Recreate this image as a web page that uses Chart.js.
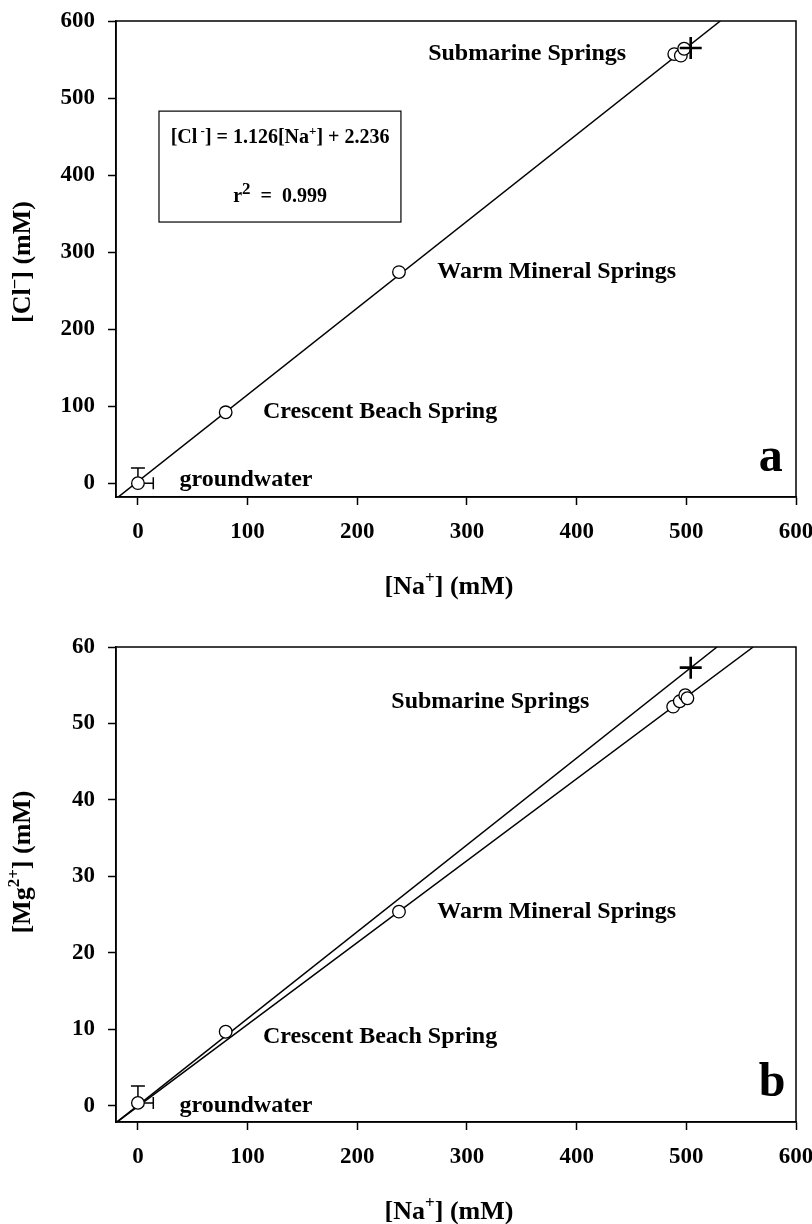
<!DOCTYPE html>
<html>
<head>
<meta charset="utf-8">
<script src="https://cdn.jsdelivr.net/npm/chart.js@4.4.1/dist/chart.umd.min.js"></script>
<style>
  html, body { margin: 0; padding: 0; background: #fff; }
  #wrap { position: relative; width: 812px; height: 1224px; }
  canvas { position: absolute; left: 0; }
</style>
</head>
<body>
<div id="wrap">
  <canvas id="chartA" width="812" height="612" style="top:0"></canvas>
  <canvas id="chartB" width="812" height="612" style="top:612px"></canvas>
</div>
<script>
  // --- panel a: [Cl-] vs [Na+] ---
  const naA = [0, 80, 238, 489, 495, 498];
  const clA = [0, 92, 274, 557, 555, 564];
  const seaNaA = [504];
  const seaClA = [565];
  const fitNaA = [-20, 531];
  const fitClA = [-20.3, 600];
  const gwErrNaA = [14];
  const gwErrClA = [19.5];

  // --- panel b: [Mg2+] vs [Na+] ---
  const naB = [0, 80, 238, 488, 494, 499, 501];
  const mgB = [0.4, 9.7, 25.4, 52.2, 52.9, 53.7, 53.3];
  const seaNaB = [504];
  const seaMgB = [57.3];
  const fitSeaNaB = [-20, 528];
  const fitSeaMgB = [-2.2, 60];
  const fitNaB = [-20, 561];
  const fitMgB = [-2.2, 60];
  const gwErrNaB = [14];
  const gwErrMgB = [2.2];

  const xTicks = [0, 100, 200, 300, 400, 500, 600];
  const yTicksA = [0, 100, 200, 300, 400, 500, 600];
  const yTicksB = [0, 10, 20, 30, 40, 50, 60];

  const siteNames = ['groundwater', 'Crescent Beach Spring', 'Warm Mineral Springs', 'Submarine Springs'];

  const FONT = '"Liberation Serif", "Times New Roman", serif';
  Chart.defaults.font.family = FONT;
  Chart.defaults.color = '#000';

  function pts(xs, ys) {
    return xs.map((x, i) => ({ x, y: ys[i] }));
  }

  // text parts: [string, isSuperscript]
  function drawRich(ctx, parts, x, y, size, align, supScale) {
    const supSize = Math.round(size * (supScale || 0.65));
    let w = 0;
    parts.forEach(p => {
      ctx.font = `bold ${p[1] ? supSize : size}px ${FONT}`;
      w += ctx.measureText(p[0]).width;
    });
    let cx = align === 'center' ? x - w / 2 : x;
    ctx.textAlign = 'left';
    ctx.textBaseline = 'alphabetic';
    ctx.fillStyle = '#000';
    parts.forEach(p => {
      ctx.font = `bold ${p[1] ? supSize : size}px ${FONT}`;
      ctx.fillText(p[0], cx, p[1] ? y - size * 0.42 : y);
      cx += ctx.measureText(p[0]).width;
    });
  }

  const panelPlugin = {
    id: 'panel',
    beforeDatasetsDraw(chart, args, opts) {
      const ctx = chart.ctx;
      const xs = chart.scales.x, ys = chart.scales.y;
      const cx = xs.getPixelForValue(opts.gw[0]);
      const cy = ys.getPixelForValue(opts.gw[1]);
      const ex = xs.getPixelForValue(opts.gw[0] + opts.errX[0]);
      const ey = ys.getPixelForValue(opts.gw[1] + opts.errY[0]);
      ctx.save();
      ctx.strokeStyle = '#000';
      ctx.lineWidth = 1.5;
      ctx.beginPath();
      ctx.moveTo(cx, cy); ctx.lineTo(ex, cy);
      ctx.moveTo(ex, cy - 6); ctx.lineTo(ex, cy + 6);
      ctx.moveTo(cx, cy); ctx.lineTo(cx, ey);
      ctx.moveTo(cx - 7, ey); ctx.lineTo(cx + 7, ey);
      ctx.stroke();
      ctx.restore();
    },
    afterDraw(chart, args, opts) {
      const ctx = chart.ctx;
      const a = chart.chartArea;
      const xs = chart.scales.x, ys = chart.scales.y;
      ctx.save();
      ctx.strokeStyle = '#000';
      ctx.lineWidth = 1.5;
      ctx.strokeRect(a.left, a.top, a.right - a.left, a.bottom - a.top);

      opts.labels.forEach(l => {
        drawRich(ctx, [[l.text, false]], xs.getPixelForValue(l.x), ys.getPixelForValue(l.y), l.size, 'left');
      });

      if (opts.box) {
        const b = opts.box;
        const x0 = xs.getPixelForValue(b.x0), x1 = xs.getPixelForValue(b.x1);
        const y0 = ys.getPixelForValue(b.y0), y1 = ys.getPixelForValue(b.y1);
        ctx.lineWidth = 1.2;
        ctx.strokeRect(x0, y0, x1 - x0, y1 - y0);
        b.lines.forEach(ln => {
          drawRich(ctx, ln.parts, xs.getPixelForValue(b.xc), ys.getPixelForValue(ln.y), 20, 'center', ln.sup);
        });
      }

      // axis titles
      drawRich(ctx, opts.xTitle, (a.left + a.right) / 2 - 7, a.bottom + 97, 26, 'center');
      ctx.translate(30, opts.yTitleY);
      ctx.rotate(-Math.PI / 2);
      drawRich(ctx, opts.yTitle, 0, 0, 26, 'center');
      ctx.restore();
    }
  };

  function makeChart(id, cfg) {
    const axisBase = {
      type: 'linear',
      border: { display: true, color: '#000', width: 1.5 },
      grid: { drawOnChartArea: false, drawTicks: true, tickLength: 8, tickColor: '#000', tickWidth: 1.5 },
      ticks: { font: { size: 23, weight: 'bold' }, color: '#000', padding: 13, autoSkip: false, maxRotation: 0 }
    };
    return new Chart(document.getElementById(id), {
      type: 'scatter',
      data: {
        datasets: [
          ...cfg.fits.map(f => ({
            type: 'line',
            data: f,
            showLine: true,
            borderColor: '#000',
            borderWidth: 1.5,
            pointRadius: 0,
            fill: false,
            order: 3
          })),
          {
            data: cfg.points,
            pointStyle: 'circle',
            pointRadius: 6.3,
            pointBackgroundColor: '#fff',
            pointBorderColor: '#000',
            pointBorderWidth: 1.3,
            order: 1
          },
          {
            data: cfg.sea,
            pointStyle: 'cross',
            pointRadius: 11,
            pointBorderColor: '#000',
            pointBorderWidth: 2.6,
            order: 0
          }
        ]
      },
      options: {
        responsive: false,
        animation: false,
        events: [],
        layout: { padding: { left: 0, right: 16, top: cfg.top, bottom: 0 } },
        plugins: {
          legend: { display: false },
          tooltip: { enabled: false },
          panel: cfg.panel
        },
        scales: {
          x: {
            ...axisBase,
            min: -20, max: 600,
            afterBuildTicks: s => { s.ticks = xTicks.map(v => ({ value: v })); },
            afterFit: s => { s.height = cfg.xHeight; s.paddingLeft = 0; s.paddingRight = 0; }
          },
          y: {
            ...axisBase,
            min: cfg.yMin, max: cfg.yMax,
            afterBuildTicks: s => { s.ticks = cfg.yTicks.map(v => ({ value: v })); },
            afterFit: s => { s.width = 116; s.paddingTop = 0; s.paddingBottom = 0; }
          }
        }
      },
      plugins: [panelPlugin]
    });
  }

  makeChart('chartA', {
    top: 21,
    xHeight: 115,
    yMin: -18, yMax: 600,
    yTicks: yTicksA,
    fits: [pts(fitNaA, fitClA)],
    points: pts(naA, clA),
    sea: pts(seaNaA, seaClA),
    panel: {
      gw: [naA[0], clA[0]],
      errX: gwErrNaA,
      errY: gwErrClA,
      labels: [
        { text: siteNames[3], x: 264.6, y: 550, size: 24 },
        { text: siteNames[2], x: 273, y: 266, size: 24 },
        { text: siteNames[1], x: 114, y: 84, size: 24 },
        { text: siteNames[0], x: 38, y: -4, size: 24 },
        { text: 'a', x: 566, y: 15.6, size: 48 }
      ],
      box: {
        x0: 19.2, x1: 239.8, y0: 483, y1: 339, xc: 129.6,
        lines: [
          { y: 441.6, parts: [['[Cl', false], [' -', true], ['] = 1.126[Na', false], ['+', true], ['] + 2.236', false]] },
          { y: 365, sup: 0.85, parts: [['r', false], ['2', true], ['  =  0.999', false]] }
        ]
      },
      xTitle: [['[Na', false], ['+', true], ['] (mM)', false]],
      yTitle: [['[Cl', false], ['\u2013', true], ['] (mM)', false]],
      yTitleY: 262
    }
  });

  makeChart('chartB', {
    top: 35,
    xHeight: 102,
    yMin: -2.1, yMax: 60,
    yTicks: yTicksB,
    fits: [pts(fitSeaNaB, fitSeaMgB), pts(fitNaB, fitMgB)],
    points: pts(naB, mgB),
    sea: pts(seaNaB, seaMgB),
    panel: {
      gw: [naB[0], mgB[0]],
      errX: gwErrNaB,
      errY: gwErrMgB,
      labels: [
        { text: siteNames[3], x: 231, y: 52, size: 24 },
        { text: siteNames[2], x: 273, y: 24.6, size: 24 },
        { text: siteNames[1], x: 114, y: 8.2, size: 24 },
        { text: siteNames[0], x: 38, y: -0.8, size: 24 },
        { text: 'b', x: 566, y: 1.3, size: 48 }
      ],
      box: null,
      xTitle: [['[Na', false], ['+', true], ['] (mM)', false]],
      yTitle: [['[Mg', false], ['2+', true], ['] (mM)', false]],
      yTitleY: 862 - 612
    }
  });
</script>
</body>
</html>
